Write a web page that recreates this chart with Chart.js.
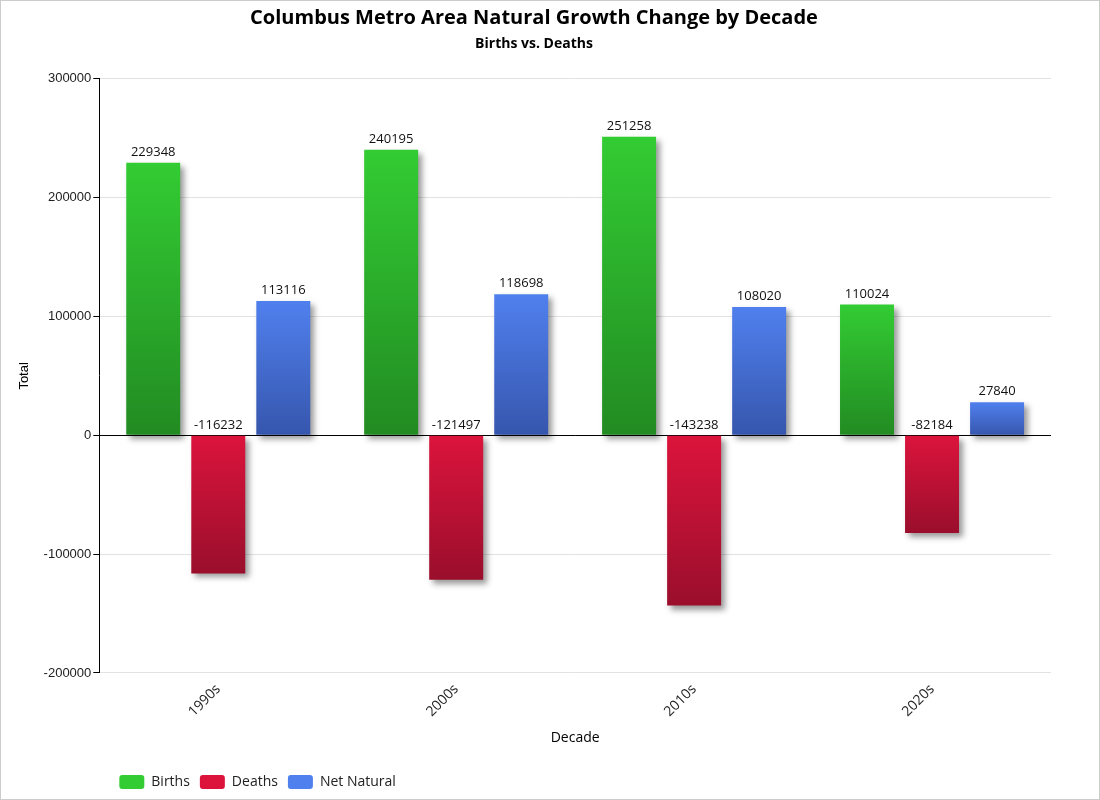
<!DOCTYPE html>
<html>
<head>
<meta charset="utf-8">
<script src="https://cdn.jsdelivr.net/npm/chart.js@4"></script>
<style>
  html, body { margin: 0; padding: 0; background: #fff; }
  #wrap { width: 1100px; height: 800px; box-sizing: border-box; border: 1px solid #ccc; position: relative; }
  canvas { display: block; }
</style>
</head>
<body>
<div id="wrap"><canvas id="c"></canvas></div>
<script>
const categories = ['1990s', '2000s', '2010s', '2020s'];
const births = [229348, 240195, 251258, 110024];
const deaths = [-116232, -121497, -143238, -82184];
const netNatural = [113116, 118698, 108020, 27840];
const yMin = -200000, yMax = 300000, yStep = 100000;

const topColors = ['#33cc33', '#dc143c', '#5080ee'];
const bottomColors = ['#228b22', '#9a0e2c', '#3656ad'];

function grad(top, bottom) {
  return (ctx) => {
    const chart = ctx.chart;
    if (!chart.chartArea || ctx.type !== 'data' || !chart.scales.y) return top;
    const ys = chart.scales.y;
    const p = ys.getPixelForValue(ctx.raw), b = ys.getPixelForValue(0);
    const y0 = Math.min(p, b), y1 = Math.max(p, b);
    if (!isFinite(y0) || !isFinite(y1) || y0 === y1) return top;
    const g = chart.ctx.createLinearGradient(0, y0, 0, y1);
    g.addColorStop(0, top);
    g.addColorStop(1, bottom);
    return g;
  };
}

const shadowPlugin = {
  id: 'shadowAndZero',
  afterLayout(chart) {
    if (chart.legend) {
      chart.legend.left += 10;
      chart.legend.right += 10;
    }
  },
  beforeDatasetsDraw(chart) {
    const { ctx, chartArea } = chart;
    const y0 = chart.scales.y.getPixelForValue(0);
    ctx.save();
    ctx.strokeStyle = '#000';
    ctx.lineWidth = 1;
    ctx.beginPath();
    ctx.moveTo(chartArea.left, Math.round(y0) + 0.5);
    ctx.lineTo(chartArea.right, Math.round(y0) + 0.5);
    ctx.stroke();
    ctx.restore();
    ctx.save();
    ctx.shadowColor = 'rgba(0,0,0,0.4)';
    ctx.shadowBlur = 6;
    ctx.shadowOffsetX = 4;
    ctx.shadowOffsetY = 4;
  },
  afterDatasetsDraw(chart) {
    chart.ctx.restore();
  }
};

const labelPlugin = {
  id: 'valueLabels',
  afterDatasetsDraw(chart) {
    const { ctx } = chart;
    ctx.save();
    ctx.font = '13px "Open Sans", "Noto Sans", sans-serif';
    ctx.fillStyle = '#111';
    ctx.textAlign = 'center';
    ctx.textBaseline = 'bottom';
    chart.data.datasets.forEach((ds, i) => {
      const meta = chart.getDatasetMeta(i);
      meta.data.forEach((bar, j) => {
        const top = Math.min(bar.y, bar.base);
        ctx.fillText(String(ds.data[j]), bar.x, top - 4);
      });
    });
    ctx.restore();
  }
};

const uiFont = '"Open Sans", "Noto Sans", sans-serif';
const axFont = '"Liberation Sans", Arial, sans-serif';

new Chart(document.getElementById('c'), {
  type: 'bar',
  data: {
    labels: categories,
    datasets: [
      { label: 'Births', data: births, backgroundColor: grad(topColors[0], bottomColors[0]) },
      { label: 'Deaths', data: deaths, backgroundColor: grad(topColors[1], bottomColors[1]) },
      { label: 'Net Natural', data: netNatural, backgroundColor: grad(topColors[2], bottomColors[2]) }
    ]
  },
  options: {
    responsive: true,
    maintainAspectRatio: false,
    animation: false,
    categoryPercentage: 0.82,
    barPercentage: 0.83,
    layout: { padding: { left: 16, right: 48, top: 3, bottom: 0 } },
    plugins: {
      title: {
        display: true,
        text: 'Columbus Metro Area Natural Growth Change by Decade',
        font: { family: uiFont, size: 20, weight: 'bold' },
        color: '#000',
        padding: { top: 2, bottom: 4 }
      },
      subtitle: {
        display: true,
        text: 'Births vs. Deaths',
        font: { family: uiFont, size: 14, weight: 'bold' },
        color: '#000',
        padding: { top: 2, bottom: 26 }
      },
      legend: {
        position: 'bottom',
        align: 'start',
        fullSize: false,
        labels: {
          boxWidth: 25,
          boxHeight: 14,
          useBorderRadius: true,
          borderRadius: 3,
          color: '#222',
          font: { family: uiFont, size: 14 },
          padding: 10,
          generateLabels(chart) {
            const items = Chart.defaults.plugins.legend.labels.generateLabels(chart);
            items.forEach((it, i) => {
              it.fillStyle = topColors[i];
              it.strokeStyle = topColors[i];
              it.lineWidth = 0;
            });
            return items;
          }
        }
      },
      tooltip: { enabled: false }
    },
    scales: {
      x: {
        grid: { display: false },
        border: { display: false },
        ticks: {
          maxRotation: 45, minRotation: 45,
          color: '#222',
          font: { family: uiFont, size: 14 },
          padding: 0
        },
        title: {
          display: true,
          text: 'Decade',
          color: '#000',
          font: { family: uiFont, size: 14 },
          padding: { top: 9, bottom: 19 }
        }
      },
      y: {
        min: yMin,
        max: yMax,
        ticks: {
          stepSize: yStep,
          color: '#222',
          font: { family: axFont, size: 13 },
          padding: 2,
          callback: (v) => String(v)
        },
        grid: {
          color: '#e2e2e2',
          borderDash: [2, 2],
          tickColor: '#000',
          tickBorderDash: [],
          tickLength: 6
        },
        border: { display: true, color: '#000', width: 1 },
        title: {
          display: true,
          text: 'Total',
          color: '#000',
          font: { family: axFont, size: 13 },
          padding: { top: 0, bottom: 9 }
        }
      }
    }
  },
  plugins: [shadowPlugin, labelPlugin]
});
</script>
</body>
</html>
